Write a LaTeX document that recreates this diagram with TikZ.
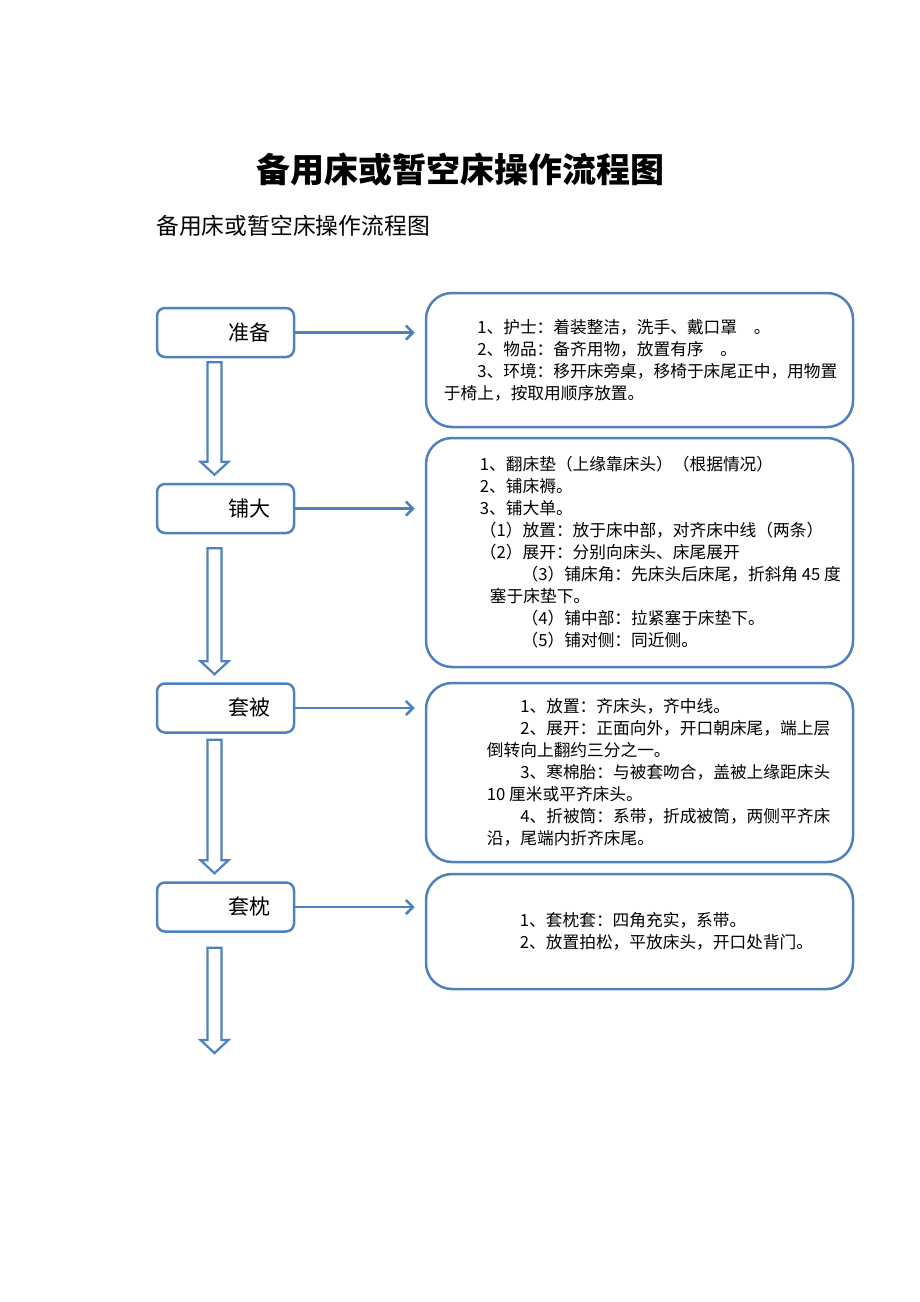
\documentclass[tikz,border=0pt]{standalone}
\usepackage{fontspec}
\setmainfont{Noto Sans CJK SC}
\usetikzlibrary{arrows.meta,calc,positioning}
\definecolor{flowblue}{RGB}{79,129,189}
\tikzset{
  stepbox/.style={draw=flowblue,line width=2.5pt,rounded corners=8pt,minimum height=49pt,
    text width=89pt,inner xsep=24pt,align=right,font=\fontsize{21}{25}\selectfont},
  notebox/.style={draw=flowblue,line width=2.5pt,rounded corners=26pt,minimum width=427pt},
  notetext/.style={anchor=west,align=left,inner sep=0pt,font=\fontsize{16.7}{22}\selectfont},
  hollow/.style={draw=flowblue,line width=2.2pt,fill=white,line join=miter},
  link/.style={draw=flowblue,line width=2.5pt,-{Straight Barb[length=7pt,width=14pt]},shorten >=10pt}
}
\begin{document}
\begin{tikzpicture}[x=1pt,y=-1pt,line join=round]
\useasboundingbox (0,0) rectangle (920,1302);
% titles
\node[font=\bfseries\fontsize{34}{40}\selectfont] (title) at (460,170) {备用床或暂空床操作流程图};
\node[anchor=west,inner sep=0pt,font=\fontsize{22.8}{27}\selectfont] (subtitle) at (156,226) {备用床或暂空床操作流程图};
% steps
\node[stepbox] (prep) at (225.5,332.5) {准备};
\node[stepbox] (bed) at (225.5,508.5) {铺大};
\node[stepbox] (quilt) at (225.5,708) {套被};
\node[stepbox] (pillow) at (225.5,907) {套枕};
\coordinate (finish) at (225.5,1061);
% notes
\node[notebox,minimum height=134pt] (n1) at (639.5,360) {};
\node[notebox,minimum height=229pt] (n2) at (639.5,552.5) {};
\node[notebox,minimum height=179pt] (n3) at (639.5,772.5) {};
\node[notebox,minimum height=115pt] (n4) at (639.5,931.5) {};
\node[notetext] (t1) at ($(n1.west)+(19,0)$) {%
  \hspace*{2em}1、护士：着装整洁，洗手、戴口罩\hspace{1em}。\\
  \hspace*{2em}2、物品：备齐用物，放置有序\hspace{1em}。\\
  \hspace*{2em}3、环境：移开床旁桌，移椅于床尾正中，用物置\\
  于椅上，按取用顺序放置。};
\node[notetext] (t2) at ($(n2.west)+(55,0)$) {%
  1、翻床垫（上缘靠床头）（根据情况）\\
  2、铺床褥。\\
  3、铺大单。\\
  （1）放置：放于床中部，对齐床中线（两条）\\
  （2）展开：分别向床头、床尾展开\\
  \hspace*{2.5em}（3）铺床角：先床头后床尾，折斜角 45 度\\
  \hspace*{0.6em}塞于床垫下。\\
  \hspace*{2.5em}（4）铺中部：拉紧塞于床垫下。\\
  \hspace*{2.5em}（5）铺对侧：同近侧。};
\node[notetext] (t3) at ($(n3.west)+(62,0)$) {%
  \hspace*{2em}1、放置：齐床头，齐中线。\\
  \hspace*{2em}2、展开：正面向外，开口朝床尾，端上层\\
  倒转向上翻约三分之一。\\
  \hspace*{2em}3、寒棉胎：与被套吻合，盖被上缘距床头\\
  10 厘米或平齐床头。\\
  \hspace*{2em}4、折被筒：系带，折成被筒，两侧平齐床\\
  沿，尾端内折齐床尾。};
\node[notetext] (t4) at ($(n4.west)+(95,0)$) {%
  1、套枕套：四角充实，系带。\\
  2、放置拍松，平放床头，开口处背门。};
% links
\foreach \s/\n in {prep/n1,bed/n2,quilt/n3,pillow/n4}{
  \draw[link] (\s.east) -- (\s.east -| \n.west);
}
\foreach \a/\b/\g in {prep/bed/4,bed/quilt/14,quilt/pillow/6,pillow/finish/15}{
  \path ($(\a.south)+(-11,\g)$) coordinate (top) ($(\b.north)+(-11,-8)$) coordinate (tip);
  \draw[hollow] ($(top)+(-7,0)$) -- ($(tip)+(-7,-13)$) -- ($(tip)+(-14,-13)$) -- (tip)
    -- ($(tip)+(14,-13)$) -- ($(tip)+(7,-13)$) -- ($(top)+(7,0)$) -- cycle;
}
\end{tikzpicture}
\end{document}
